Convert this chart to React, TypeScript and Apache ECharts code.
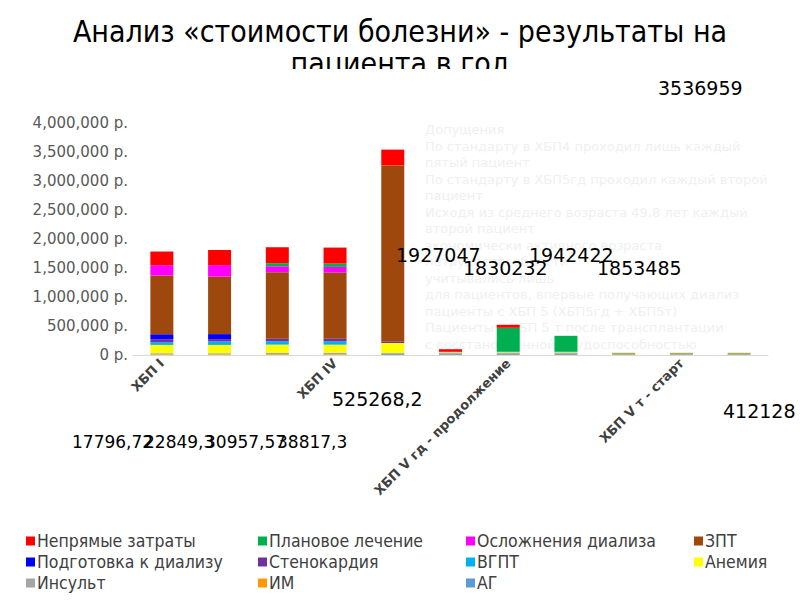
import React, { useEffect, useRef } from "react";
import * as echarts from "echarts";

const categories = [
  "ХБП I",
  "ХБП II",
  "ХБП III",
  "ХБП IV",
  "ХБП V гд - старт",
  "ХБП V",
  "ХБП V гд - продолжение",
  "ХБП V пд",
  "ХБП V пд - продолжение",
  "ХБП V т - старт",
  "ХБП V т - продолжение",
];

// stacking order: bottom -> top
const seriesNames = [
  "АГ",
  "ИМ",
  "Инсульт",
  "Анемия",
  "ВГПТ",
  "Стенокардия",
  "Подготовка к диализу",
  "ЗПТ",
  "Осложнения диализа",
  "Плановое лечение",
  "Непрямые затраты",
];

const agValues = [5000, 5000, 5000, 5000, 15000, 15000, 15000, 15000, 12000, 12000, 12000];
const imValues = [10000, 10000, 10000, 10000, 5000, 5000, 5000, 5000, 5000, 5000, 5000];
const insultValues = [15000, 15000, 20000, 25000, 15000, 25000, 25000, 25000, 20000, 20000, 20000];
const anemiaValues = [144000, 144000, 144000, 138000, 172000, 10000, 10000, 10000, 8000, 8000, 8000];
const vgptValues = [46000, 60000, 57000, 57000, 0, 0, 0, 0, 0, 0, 0];
const stenoValues = [52000, 40000, 46000, 46000, 29000, 0, 0, 0, 0, 0, 0];
const prepValues = [86000, 86000, 0, 0, 0, 0, 0, 0, 0, 0, 0];
const zptValues = [1012000, 990000, 1145000, 1140000, 3029000, 0, 0, 0, 0, 0, 0];
const complValues = [178000, 200000, 103000, 98000, 0, 0, 0, 0, 0, 0, 0];
const plannedValues = [0, 0, 52000, 57000, 0, 0, 414000, 276000, 0, 0, 0];
const indirectValues = [236000, 260000, 276000, 276000, 276000, 45000, 52000, 0, 0, 0, 0];

const seriesValues = [
  agValues,
  imValues,
  insultValues,
  anemiaValues,
  vgptValues,
  stenoValues,
  prepValues,
  zptValues,
  complValues,
  plannedValues,
  indirectValues,
];

const seriesColors = [
  "#5B9BD5",
  "#FF9900",
  "#A5A5A5",
  "#FFFF00",
  "#00B0F0",
  "#7030A0",
  "#0000FF",
  "#9E480E",
  "#FF00FF",
  "#00B050",
  "#FF0000",
];

const legendColumns = [
  ["Непрямые затраты", "Подготовка к диализу", "Инсульт"],
  ["Плановое лечение", "Стенокардия", "ИМ"],
  ["Осложнения диализа", "ВГПТ", "АГ"],
  ["ЗПТ", "Анемия"],
];
const legendLefts = [26, 258, 466, 694];

const titleLines = ["Анализ «стоимости болезни» - результаты на", "пациента в год"];

const overlayNumbers = [
  { t: "3536959", x: 658, y: 88, s: 19 },
  { t: "1927047", x: 396, y: 255, s: 19 },
  { t: "1830232", x: 463, y: 268, s: 19 },
  { t: "1942422", x: 529, y: 255, s: 19 },
  { t: "1853485", x: 597, y: 268, s: 19 },
  { t: "525268,2", x: 332, y: 399, s: 19 },
  { t: "412128", x: 723, y: 411, s: 19 },
  { t: "17796,72", x: 72, y: 442, s: 17 },
  { t: "22849,3", x: 144, y: 442, s: 17 },
  { t: "30957,57", x: 205, y: 442, s: 17 },
  { t: "38817,3", x: 277, y: 442, s: 17 },
];

const faintLines = [
  "Допущения",
  "По стандарту в ХБП4 проходил лишь каждый",
  "пятый пациент",
  "По стандарту в ХБП5гд проходил каждый второй",
  "пациент",
  "Исходя из среднего возраста 49,8 лет каждый",
  "второй пациент",
  "экономически активного возраста",
  "нетрудоспособности",
  "учитывались лишь",
  "для пациентов, впервые получающих диализ",
  "пациенты с ХБП 5 (ХБП5гд + ХБП5т)",
  "Пациенты с ХБП 5 т после трансплантации",
  "с восстановленной трудоспособностью",
];

export default function App() {
  const ref = useRef<HTMLDivElement>(null);
  useEffect(() => {
    if (!ref.current) return;
    const chart = echarts.init(ref.current, undefined, { renderer: "svg" });
    const font = "'DejaVu Sans', sans-serif";
    const condensed = "'DejaVu Sans Condensed', 'DejaVu Sans', sans-serif";
    const graphics: any[] = [];
    faintLines.forEach((line, i) => {
      graphics.push({
        type: "text",
        left: 425,
        top: 123 + i * 16.5,
        z: -10,
        style: { text: line, fill: "#f0f0f0", font: `13px ${font}` },
      });
    });
    titleLines.forEach((line, i) => {
      graphics.push({
        type: "text",
        x: 400,
        y: 31 + i * 32,
        z: 50,
        style: {
          text: line,
          fill: "#000",
          font: `30px ${condensed}`,
          textAlign: "center",
          textVerticalAlign: "middle",
        },
      });
    });
    graphics.push({
      type: "rect",
      shape: { x: 260, y: 69, width: 280, height: 12 },
      z: 60,
      style: { fill: "#fff" },
    });
    overlayNumbers.forEach((n) => {
      graphics.push({
        type: "text",
        x: n.x,
        y: n.y,
        z: 100,
        style: {
          text: n.t,
          fill: "#000",
          font: `${n.s}px ${font}`,
          textVerticalAlign: "middle",
        },
      });
    });

    const legends = legendColumns.map((col, i) => ({
      data: col,
      orient: "vertical",
      left: legendLefts[i],
      top: 532,
      padding: 0,
      itemWidth: 9,
      itemHeight: 9,
      itemGap: 3,
      icon: "rect",
      selectedMode: false,
      textStyle: {
        fontSize: 17.5,
        lineHeight: 17,
        color: "#404040",
        fontFamily: condensed,
        padding: [0, 0, 0, -3],
      },
    }));

    chart.setOption({
      animation: false,
      backgroundColor: "#fff",
      grid: { left: 133, right: 32, top: 123, bottom: 245, containLabel: false },
      legend: legends,
      xAxis: {
        type: "category",
        data: categories,
        axisLine: { lineStyle: { color: "#d9d9d9" } },
        axisTick: { show: false },
        axisLabel: {
          interval: 2,
          rotate: 45,
          color: "#404040",
          fontSize: 13,
          fontWeight: "bold",
          fontFamily: font,
          margin: 6,
        },
      },
      yAxis: {
        type: "value",
        min: 0,
        max: 4000000,
        interval: 500000,
        splitLine: { show: false },
        axisLine: { show: false },
        axisTick: { show: false },
        axisLabel: {
          color: "#595959",
          fontSize: 15,
          fontFamily: font,
          margin: 5,
          formatter: (v: number) => v.toLocaleString("en-US") + " р.",
        },
      },
      series: seriesNames.map((name, i) => ({
        name,
        type: "bar",
        stack: "total",
        barWidth: 23,
        data: seriesValues[i],
        itemStyle: { color: seriesColors[i] },
      })),
      graphic: graphics,
    });
    return () => chart.dispose();
  }, []);
  return <div ref={ref} style={{ width: 800, height: 600, position: "absolute", left: 0, top: 0 }} />;
}
